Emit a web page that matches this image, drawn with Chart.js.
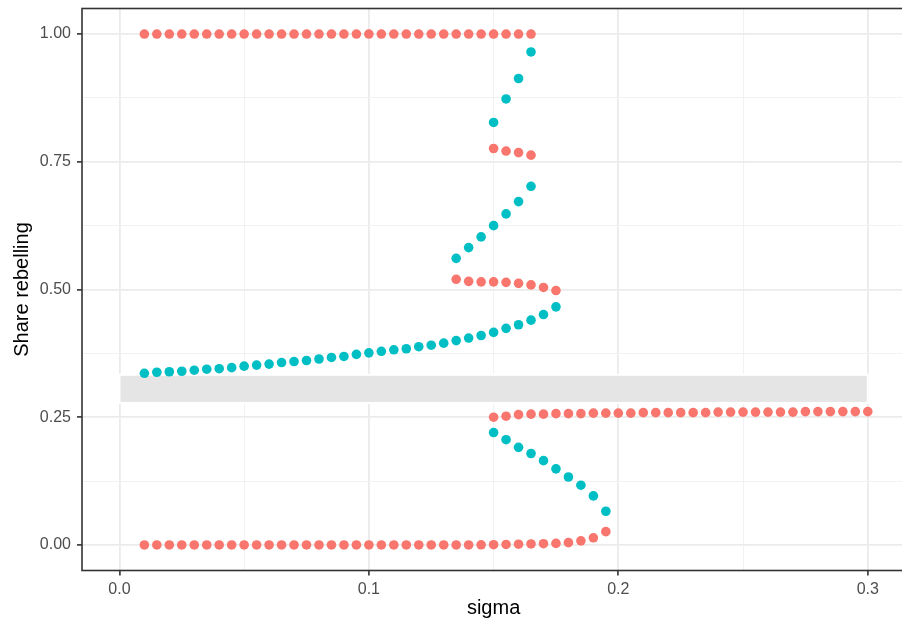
<!DOCTYPE html>
<html>
<head>
<meta charset="utf-8">
<script src="https://cdn.jsdelivr.net/npm/chart.js@4.4.0/dist/chart.umd.min.js"></script>
<style>
  html, body { margin: 0; padding: 0; background: #fff; overflow: hidden; }
  #wrap { width: 910px; height: 628px; }
</style>
</head>
<body>
<div id="wrap"><canvas id="chart" width="910" height="628"></canvas></div>
<script>
// sigma grid the points sit on
const sigma = [0.010, 0.015, 0.020, 0.025, 0.030, 0.035, 0.040, 0.045, 0.050, 0.055,
               0.060, 0.065, 0.070, 0.075, 0.080, 0.085, 0.090, 0.095, 0.100, 0.105,
               0.110, 0.115, 0.120, 0.125, 0.130, 0.135, 0.140, 0.145, 0.150, 0.155,
               0.160, 0.165, 0.170, 0.175, 0.180, 0.185, 0.190, 0.195, 0.200, 0.205,
               0.210, 0.215, 0.220, 0.225, 0.230, 0.235, 0.240, 0.245, 0.250, 0.255,
               0.260, 0.265, 0.270, 0.275, 0.280, 0.285, 0.290, 0.295, 0.300];

// red branches (start index into sigma, shares)
const redTopStart = 0;
const redTop = [1, 1, 1, 1, 1, 1, 1, 1, 1, 1, 1, 1, 1, 1, 1, 1,
                1, 1, 1, 1, 1, 1, 1, 1, 1, 1, 1, 1, 1, 1, 1, 1];
const redUpperStart = 28;
const redUpper = [0.776, 0.771, 0.768, 0.763];
const redMidStart = 25;
const redMid = [0.520, 0.516, 0.515, 0.515, 0.514, 0.512, 0.509, 0.504, 0.498];
const redLowStart = 28;
const redLow = [0.250, 0.252, 0.255, 0.256, 0.256, 0.257, 0.257, 0.257, 0.258, 0.258,
                0.258, 0.258, 0.259, 0.259, 0.259, 0.259, 0.259, 0.259, 0.260, 0.260,
                0.260, 0.260, 0.260, 0.260, 0.260, 0.261, 0.261, 0.261, 0.261, 0.261, 0.261];
const redBottomStart = 0;
const redBottom = [0, 0, 0, 0, 0, 0, 0, 0, 0, 0, 0, 0, 0, 0, 0, 0, 0, 0, 0, 0,
                   0, 0, 0, 0, 0, 0, 0, 0.0003, 0.0005, 0.001, 0.0015, 0.002, 0.0025,
                   0.003, 0.0045, 0.008, 0.014, 0.026];

// teal branches
const tealMainStart = 0;
const tealMain = [0.336, 0.338, 0.339, 0.340, 0.342, 0.344, 0.345, 0.347, 0.350, 0.352,
                  0.354, 0.357, 0.359, 0.361, 0.364, 0.367, 0.369, 0.373, 0.376, 0.379,
                  0.382, 0.384, 0.388, 0.391, 0.395, 0.400, 0.405, 0.410, 0.416, 0.424,
                  0.431, 0.440, 0.451, 0.466];
const tealMidStart = 25;
const tealMid = [0.561, 0.582, 0.603, 0.625, 0.648, 0.672, 0.702];
const tealTopStart = 28;
const tealTop = [0.827, 0.873, 0.913, 0.965];
const tealLowStart = 28;
const tealLow = [0.220, 0.206, 0.191, 0.179, 0.165, 0.149, 0.133, 0.117, 0.096, 0.066];

// shaded band
const bandSigma = [0, 0.3];
const bandShare = [0.278, 0.333];

// ticks
const xMajor = [0, 0.1, 0.2, 0.3];
const xMinor = [0.05, 0.15, 0.25];
const yMajor = [0, 0.25, 0.5, 0.75, 1];
const yMinor = [0.125, 0.375, 0.625, 0.875];

function pts(start, shares) {
    return shares.map((y, i) => ({ x: sigma[start + i], y: y }));
}

const redPoints = [].concat(
    pts(redTopStart, redTop), pts(redUpperStart, redUpper), pts(redMidStart, redMid),
    pts(redLowStart, redLow), pts(redBottomStart, redBottom));
const tealPoints = [].concat(
    pts(tealMainStart, tealMain), pts(tealMidStart, tealMid),
    pts(tealTopStart, tealTop), pts(tealLowStart, tealLow));

const isMajor = (list, v) => list.some(m => Math.abs(m - v) < 1e-9);

const bandPlugin = {
    id: 'band',
    beforeDatasetsDraw(chart) {
        const { ctx, scales: { x, y } } = chart;
        const x0 = x.getPixelForValue(bandSigma[0]);
        const x1 = x.getPixelForValue(bandSigma[1]);
        const y0 = y.getPixelForValue(bandShare[1]);
        const y1 = y.getPixelForValue(bandShare[0]);
        ctx.save();
        ctx.fillStyle = '#E5E5E5';
        ctx.strokeStyle = '#FFFFFF';
        ctx.lineWidth = 2;
        ctx.fillRect(x0, y0, x1 - x0, y1 - y0);
        ctx.strokeRect(x0, y0, x1 - x0, y1 - y0);
        ctx.restore();
    },
    afterDraw(chart) {
        const { ctx, chartArea: a } = chart;
        ctx.save();
        ctx.strokeStyle = '#333333';
        ctx.lineWidth = 1.6;
        ctx.strokeRect(a.left, a.top, a.right - a.left, a.bottom - a.top);
        ctx.restore();
    }
};

const gridOpts = (major) => ({
    color: ctx => ctx.tick && isMajor(major, ctx.tick.value) ? '#EBEBEB' : '#F2F2F2',
    lineWidth: ctx => ctx.tick && isMajor(major, ctx.tick.value) ? 1.8 : 1.1,
    tickColor: ctx => ctx.tick && isMajor(major, ctx.tick.value) ? '#333333' : 'rgba(0,0,0,0)',
    tickWidth: 1.6,
    tickLength: 5,
    drawTicks: true
});

const noPad = s => { s.paddingTop = 0; s.paddingBottom = 0; s.paddingLeft = 0; s.paddingRight = 0; };

new Chart(document.getElementById('chart'), {
    type: 'scatter',
    data: {
        datasets: [
            { label: 'red', data: redPoints, backgroundColor: '#F8766D', borderWidth: 0, pointRadius: 4.8, pointHoverRadius: 4.8 },
            { label: 'teal', data: tealPoints, backgroundColor: '#00BFC4', borderWidth: 0, pointRadius: 4.8, pointHoverRadius: 4.8 }
        ]
    },
    options: {
        responsive: false,
        animation: false,
        devicePixelRatio: 1,
        layout: { padding: { top: 8.5, right: 2.5, left: 0, bottom: 0 } },
        plugins: { legend: { display: false }, tooltip: { enabled: false } },
        scales: {
            x: {
                type: 'linear',
                min: -0.015,
                max: 0.315,
                afterBuildTicks: s => { s.ticks = xMajor.concat(xMinor).sort((a, b) => a - b).map(v => ({ value: v })); },
                afterFit: s => { s.height = 57.5; noPad(s); },
                grid: gridOpts(xMajor),
                border: { display: false },
                ticks: {
                    autoSkip: false,
                    maxRotation: 0,
                    padding: 4,
                    color: '#4D4D4D',
                    font: { family: 'Liberation Sans, Arial, sans-serif', size: 16 },
                    callback: v => isMajor(xMajor, v) ? v.toFixed(1) : ''
                },
                title: {
                    display: true,
                    text: 'sigma',
                    color: '#000000',
                    font: { family: 'Liberation Sans, Arial, sans-serif', size: 20 },
                    padding: { top: 0, bottom: 8 }
                }
            },
            y: {
                type: 'linear',
                min: -0.05,
                max: 1.05,
                afterBuildTicks: s => { s.ticks = yMajor.concat(yMinor).sort((a, b) => a - b).map(v => ({ value: v })); },
                afterFit: s => { s.width = 82; noPad(s); },
                grid: gridOpts(yMajor),
                border: { display: false },
                ticks: {
                    autoSkip: false,
                    padding: 6,
                    color: '#4D4D4D',
                    font: { family: 'Liberation Sans, Arial, sans-serif', size: 16 },
                    callback: v => isMajor(yMajor, v) ? v.toFixed(2) : ''
                },
                title: {
                    display: true,
                    text: 'Share rebelling',
                    color: '#000000',
                    font: { family: 'Liberation Sans, Arial, sans-serif', size: 20 },
                    padding: { top: 10, bottom: 0 }
                }
            }
        }
    },
    plugins: [bandPlugin]
});
</script>
</body>
</html>
